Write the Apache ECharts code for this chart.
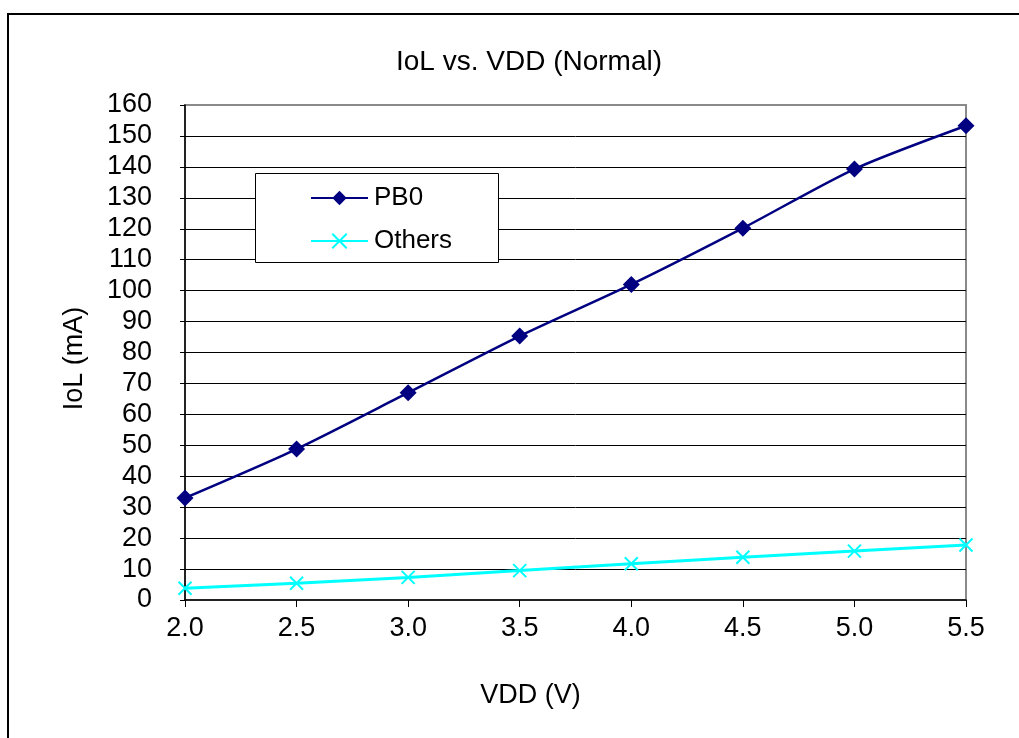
<!DOCTYPE html>
<html>
<head>
<meta charset="utf-8">
<script src="https://cdn.jsdelivr.net/npm/echarts@6/dist/echarts.min.js"></script>
<style>
html,body{margin:0;padding:0;background:#fff;}
#c{width:1019px;height:738px;}
</style>
</head>
<body>
<div id="c"></div>
<script>
var vdd = [2.0, 2.5, 3.0, 3.5, 4.0, 4.5, 5.0, 5.5];
var pb0 = [33, 48.8, 67, 85.3, 102, 120.2, 139.3, 153.3];
var others = [3.8, 5.4, 7.3, 9.5, 11.7, 13.8, 15.8, 17.8];
var seriesNames = ['PB0', 'Others'];
var titleText = 'IoL vs. VDD (Normal)';
var xName = 'VDD (V)';
var yName = 'IoL (mA)';

function pairs(xs, ys) { return xs.map(function (x, i) { return [x, ys[i]]; }); }

var FONT = '"Liberation Sans", Arial, sans-serif';
var chart = echarts.init(document.getElementById('c'), null, {renderer: 'canvas'});
chart.setOption({
  backgroundColor: '#fff',
  animation: false,
  title: {
    text: titleText, left: 391, top: 43,
    textStyle: {fontFamily: FONT, fontSize: 28, fontWeight: 'normal', color: '#000'}
  },
  graphic: [
    {type: 'polyline', z: 1, shape: {points: [[8, 740], [8, 14], [1022, 14]]},
      style: {stroke: '#000', lineWidth: 2, fill: 'none'}},
    {type: 'rect', z: 50, shape: {x: 255.5, y: 173.5, width: 243, height: 89},
      style: {fill: '#fff', stroke: '#000', lineWidth: 1}}
  ],
  legend: {
    z: 60,
    orient: 'vertical', left: 305, top: 180,
    itemWidth: 57, itemHeight: 18, itemGap: 17,
    textStyle: {fontFamily: FONT, fontSize: 26, color: '#000', padding: [0, 0, 0, 1]},
    data: seriesNames
  },
  grid: {
    left: 185, right: 53, top: 105, bottom: 138,
    show: true, borderColor: '#8a8a8a', borderWidth: 2, backgroundColor: 'transparent'
  },
  xAxis: {
    type: 'value', min: 2, max: 5.5, interval: 0.5,
    name: xName, nameLocation: 'middle', nameGap: 82,
    nameTextStyle: {fontFamily: FONT, fontSize: 27, color: '#000', verticalAlign: 'top', padding: [0, 90, 0, 0]},
    axisLine: {lineStyle: {color: '#000', width: 1.5}},
    axisTick: {show: true, inside: false, length: 7, lineStyle: {color: '#000'}},
    splitLine: {show: false},
    axisLabel: {fontFamily: FONT, fontSize: 27, color: '#000', margin: 15,
      formatter: function (v) { return v.toFixed(1); }}
  },
  yAxis: {
    type: 'value', min: 0, max: 160, interval: 10,
    name: yName, nameLocation: 'middle', nameGap: 97,
    nameTextStyle: {fontFamily: FONT, fontSize: 27, color: '#000', padding: [0, 12, 0, 0]},
    axisLine: {show: true, lineStyle: {color: '#000', width: 1.5}},
    axisTick: {show: true, inside: false, length: 5, lineStyle: {color: '#000'}},
    splitLine: {show: true, showMinLine: false, showMaxLine: false, lineStyle: {color: '#000', width: 1}},
    axisLabel: {fontFamily: FONT, fontSize: 27, color: '#000', margin: 33}
  },
  series: [
    {
      name: seriesNames[0], type: 'line', data: pairs(vdd, pb0),
      smooth: 0.25, symbol: 'diamond', symbolSize: 17,
      itemStyle: {color: '#000080'},
      lineStyle: {color: '#000080', width: 2.5}, z: 3
    },
    {
      name: seriesNames[1], type: 'line', data: pairs(vdd, others),
      smooth: false, symbol: 'path://M0,0L10,10M10,0L0,10', symbolSize: 13,
      itemStyle: {color: 'none', borderColor: '#00FFFF', borderWidth: 2},
      lineStyle: {color: '#00FFFF', width: 3}, z: 2
    }
  ]
});
</script>
</body>
</html>
